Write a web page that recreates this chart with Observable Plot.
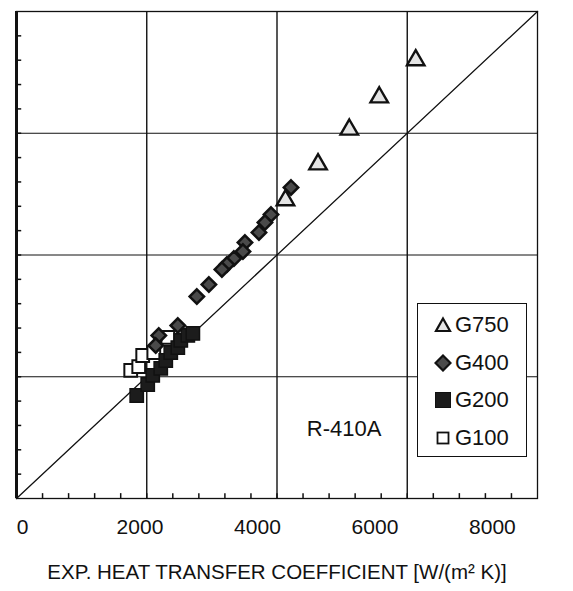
<!DOCTYPE html>
<html><head><meta charset="utf-8">
<script src="https://cdn.jsdelivr.net/npm/d3@7"></script>
<script src="https://cdn.jsdelivr.net/npm/@observablehq/plot@0.6"></script>
<style>
body{margin:0;background:#fff;}
#wrap{position:relative;width:573px;height:591px;font-family:"Liberation Sans",Arial,Helvetica,sans-serif;}
#legend{position:absolute;left:417px;top:303px;width:108px;height:152px;border:1.3px solid #111;background:#fff;}
.row{position:absolute;left:0;height:30px;display:flex;align-items:center;font-size:22px;color:#111;}
.row svg{margin-left:16px;margin-right:3px;}
</style></head>
<body><div id="wrap"><div id="legend"></div></div>
<script>
// ---- data ----
const seriesNames = ["G750", "G400", "G200", "G100"];
const g750X = [4130, 4630, 5110, 5570, 6130];
const g750Y = [4900, 5490, 6060, 6590, 7200];
const g400X = [4215, 3908, 3815, 3723, 3508, 3477, 3338, 3231, 3154, 2954, 2769, 2477, 2185, 2138];
const g400Y = [5109, 4665, 4534, 4370, 4205, 4057, 3942, 3844, 3762, 3515, 3318, 2842, 2678, 2513];
const g200X = [1846, 2015, 2092, 2215, 2292, 2369, 2477, 2523, 2631, 2708];
const g200Y = [1692, 1873, 2021, 2136, 2267, 2398, 2480, 2596, 2678, 2711];
const g100X = [1754, 1877, 1938, 2108, 2323];
const g100Y = [2103, 2168, 2349, 2398, 2645];
const xTickLabels = [0, 2000, 4000, 6000, 8000];
const gridValues = [2000, 4000, 6000];
const minorTicks = d3.range(400, 8000, 400);
const tickLen = 80; // in data units (short inward ticks)
const diagonal = [0, 8000];
const xTitle = "EXP. HEAT TRANSFER COEFFICIENT [W/(m\u00B2 K)]";
const note = [{x: 5030, y: 1150, text: "R-410A"}];

const pts = (xs, ys, s) => xs.map((x, i) => ({x, y: ys[i], s}));
const rows = [
  ...pts(g750X, g750Y, "G750"), ...pts(g400X, g400Y, "G400"),
  ...pts(g200X, g200Y, "G200"), ...pts(g100X, g100Y, "G100")
];
const sel = s => rows.filter(d => d.s === s);
const font = '"Liberation Sans",Arial,Helvetica,sans-serif';

const chart = Plot.plot({
  width: 573, height: 591,
  marginTop: 11, marginLeft: 16, marginRight: 36, marginBottom: 93,
  style: {fontFamily: font, background: "white", color: "#111"},
  x: {domain: [0, 8000], axis: null},
  y: {domain: [0, 8000], axis: null},
  marks: [
    Plot.ruleX(gridValues, {stroke: "#111", strokeWidth: 1.4}),
    Plot.ruleY(gridValues, {stroke: "#111", strokeWidth: 1}),
    Plot.frame({stroke: "#111", strokeWidth: 1.3}),
    Plot.ruleX([0], {stroke: "#111", strokeWidth: 3}),
    Plot.ruleX(minorTicks, {y1: 0, y2: tickLen, stroke: "#111", strokeWidth: 1.5}),
    Plot.ruleY(minorTicks, {x1: 0, x2: tickLen, stroke: "#111", strokeWidth: 1.5}),
    Plot.line(diagonal, {x: d => d, y: d => d, stroke: "#111", strokeWidth: 1.3}),
    Plot.dot(sel("G100"), {x: "x", y: "y", symbol: "square", r: 7.2, fill: "white", stroke: "#111", strokeWidth: 2}),
    Plot.dot(sel("G200"), {x: "x", y: "y", symbol: "square", r: 7.5, fill: "#1c1c1c", stroke: "#111", strokeWidth: 1.5}),
    Plot.dot(sel("G400"), {x: "x", y: "y", symbol: "diamond2", r: 6.5, fill: "#4a4a4a", stroke: "#111", strokeWidth: 2.5}),
    Plot.dot(sel("G750"), {x: "x", y: "y", symbol: "triangle", r: 6.5, fill: "#e4e4e4", stroke: "#111", strokeWidth: 2.4}),
    Plot.text(note, {x: "x", y: "y", text: "text", fontSize: 22, fill: "#111"}),
    // tick labels (the scanned figure places them slightly compressed relative to the grid)
    Plot.text(xTickLabels, {x: d => 92 + 0.902 * d, frameAnchor: "bottom", dy: 35, text: d => String(d), fontSize: 21, fill: "#111"}),
    Plot.text([xTitle], {frameAnchor: "bottom", dy: 80, text: d => d, fontSize: 20.5, fill: "#111"})
  ]
});
document.getElementById("wrap").prepend(chart);

// ---- legend ----
const icon = {
  G750: '<svg width="18" height="18" viewBox="-9 -9 18 18"><path d="M0,-6.5L7,6L-7,6Z" fill="#e4e4e4" stroke="#111" stroke-width="2.2"/></svg>',
  G400: '<svg width="18" height="18" viewBox="-9 -9 18 18"><path d="M0,-7.5L7.5,0L0,7.5L-7.5,0Z" fill="#4a4a4a" stroke="#111" stroke-width="2.2"/></svg>',
  G200: '<svg width="18" height="18" viewBox="-9 -9 18 18"><rect x="-7.5" y="-7.5" width="15" height="15" fill="#1c1c1c" stroke="#111" stroke-width="1"/></svg>',
  G100: '<svg width="18" height="18" viewBox="-9 -9 18 18"><rect x="-5.5" y="-5.5" width="11" height="11" fill="white" stroke="#111" stroke-width="1.8"/></svg>'
};
const lg = document.getElementById("legend");
seriesNames.forEach((s, i) => {
  const r = document.createElement("div");
  r.className = "row";
  r.style.top = (6 + i * 37.7) + "px";
  r.innerHTML = icon[s] + "<span>" + s + "</span>";
  lg.appendChild(r);
});
</script></body></html>
